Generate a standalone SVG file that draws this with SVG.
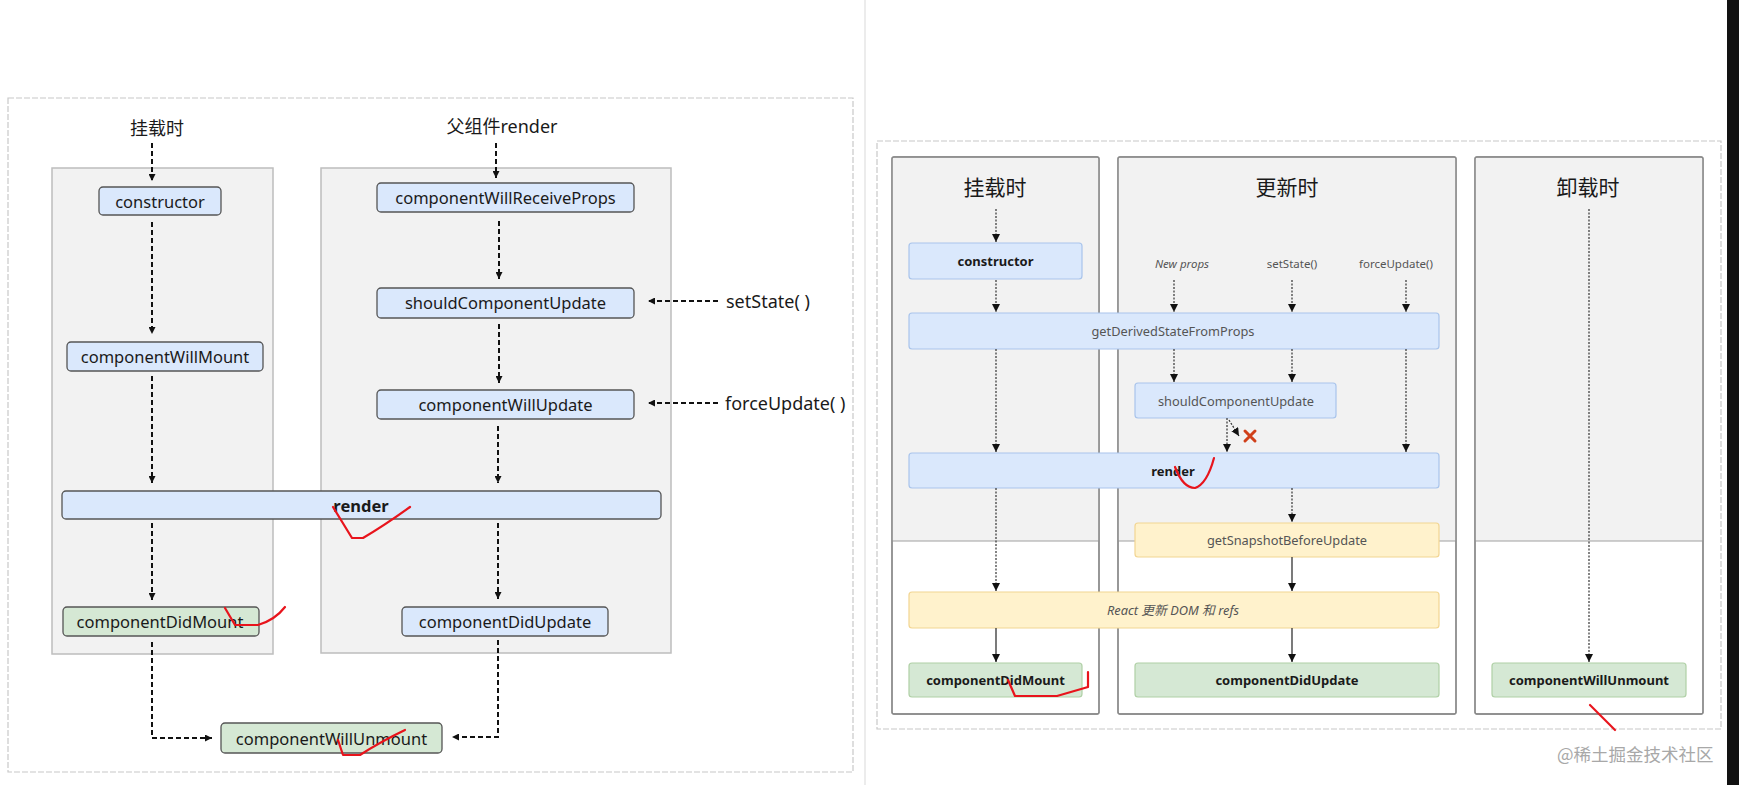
<svg xmlns="http://www.w3.org/2000/svg" width="1739" height="785" viewBox="0 0 1739 785">
<style>
text{font-family:"Noto Sans","Open Sans","Noto Sans CJK SC",sans-serif;}
.outer{fill:#fff;stroke:#c8c8c8;stroke-width:1.2;stroke-dasharray:6,2;}
.lane{fill:#f2f2f2;stroke:#bdbdbd;stroke-width:1.5;}
.lbox{fill:#dae8fc;stroke:#555;stroke-width:1.3;}
.lgreen{fill:#d5e8d4;stroke:#555;stroke-width:1.3;}
.lt{font-size:16.5px;fill:#1a1a1a;text-anchor:middle;dominant-baseline:central;}
.lh{font-size:18px;fill:#1a1a1a;text-anchor:middle;dominant-baseline:central;}
.ls{font-size:18px;fill:#1a1a1a;text-anchor:start;dominant-baseline:central;}
.ld{fill:none;stroke:#111;stroke-width:2;stroke-dasharray:5,3;marker-end:url(#ah);}
.rlane{fill:#fff;stroke:#8a8a8a;stroke-width:1.3;}
.rgray{fill:#f2f2f2;}
.rdiv{stroke:#a0a0a0;stroke-width:1;}
.rbox{fill:#dae8fc;stroke:#a9c4eb;stroke-width:1.2;}
.rylw{fill:#fff2cc;stroke:#f2d592;stroke-width:1.2;}
.rgrn{fill:#d5e8d4;stroke:#b0d0a6;stroke-width:1.2;}
.rt{font-size:12.8px;fill:#555;text-anchor:middle;dominant-baseline:central;}
.rb{font-size:13px;font-weight:bold;fill:#1a1a1a;text-anchor:middle;dominant-baseline:central;}
.rh{font-size:21px;fill:#1a1a1a;text-anchor:middle;dominant-baseline:central;}
.ri{font-size:11.5px;fill:#555;text-anchor:middle;dominant-baseline:central;}
.rd{fill:none;stroke:#333;stroke-width:1.2;stroke-dasharray:2,1.5;marker-end:url(#ah2);}
.rs{fill:none;stroke:#333;stroke-width:1.3;marker-end:url(#ah2);}
.red{fill:none;stroke:#e8141c;stroke-width:2.2;stroke-linecap:round;stroke-linejoin:round;}
</style>
<defs>
<marker id="ah" viewBox="0 0 8 8" markerWidth="7" markerHeight="7" refX="8" refY="4" orient="auto" markerUnits="userSpaceOnUse"><path d="M0,0 L8,4 L0,8 z" fill="#111"/></marker>
<marker id="ah2" viewBox="0 0 8 8" markerWidth="8" markerHeight="8" refX="8" refY="4" orient="auto" markerUnits="userSpaceOnUse"><path d="M0,0 L8,4 L0,8 z" fill="#111"/></marker>
</defs>
<rect width="1739" height="785" fill="#fff"/>
<line x1="865" y1="0" x2="865" y2="785" stroke="#e6e6e6" stroke-width="1.5"/>
<rect x="1727" y="0" width="12" height="785" fill="#111"/>

<!-- LEFT DIAGRAM -->
<g id="left-frame">
<rect class="outer" x="8" y="98" width="845" height="674"/>
<rect class="lane" x="52" y="168" width="221" height="486"/>
<rect class="lane" x="321" y="168" width="350" height="485"/>
</g>
<g id="l-mount-label"><text class="lh" x="157" y="128">挂载时</text></g>
<g id="l-parent-label"><text class="lh" x="502" y="126">父组件render</text></g>
<g id="l-constructor"><rect class="lbox" x="99" y="187" width="122" height="28" rx="4"/><text class="lt" x="160" y="201">constructor</text></g>
<g id="l-cwm"><rect class="lbox" x="67" y="342" width="196" height="29" rx="4"/><text class="lt" x="165" y="356.5">componentWillMount</text></g>
<g id="l-render"><rect class="lbox" x="62" y="491" width="599" height="28" rx="4"/><text class="lt" x="361" y="505" font-weight="bold">render</text></g>
<g id="l-cdm"><rect class="lgreen" x="63" y="607" width="196" height="29" rx="4"/><text class="lt" x="160" y="621.5">componentDidMount</text></g>
<g id="l-cwrp"><rect class="lbox" x="377" y="183" width="257" height="29" rx="4"/><text class="lt" x="505.5" y="197.5">componentWillReceiveProps</text></g>
<g id="l-scu"><rect class="lbox" x="377" y="288" width="257" height="30" rx="4"/><text class="lt" x="505.5" y="302.5">shouldComponentUpdate</text></g>
<g id="l-cwu"><rect class="lbox" x="377" y="390" width="257" height="29" rx="4"/><text class="lt" x="505.5" y="404.5">componentWillUpdate</text></g>
<g id="l-cdu"><rect class="lbox" x="402" y="607" width="206" height="29" rx="4"/><text class="lt" x="505" y="621.5">componentDidUpdate</text></g>
<g id="l-cwun"><rect class="lgreen" x="221" y="723" width="221" height="30" rx="4"/><text class="lt" x="331.5" y="738">componentWillUnmount</text></g>
<g id="l-setstate"><text class="ls" x="726" y="301">setState( )</text></g>
<g id="l-forceupdate"><text class="ls" x="725" y="403">forceUpdate( )</text></g>

<g id="l-connectors">
<line class="ld" x1="152" y1="143" x2="152" y2="181"/>
<line class="ld" x1="152" y1="222" x2="152" y2="334"/>
<line class="ld" x1="152" y1="376" x2="152" y2="483"/>
<line class="ld" x1="152" y1="523" x2="152" y2="600"/>
<path class="ld" d="M152,642 V738 H212"/>
<line class="ld" x1="496" y1="143" x2="496" y2="178"/>
<line class="ld" x1="499" y1="221" x2="499" y2="279"/>
<line class="ld" x1="499" y1="324" x2="499" y2="383"/>
<line class="ld" x1="498" y1="426" x2="498" y2="483"/>
<line class="ld" x1="498" y1="523" x2="498" y2="599"/>
<path class="ld" d="M498,640 V737 H452"/>
<line class="ld" x1="718" y1="301" x2="648" y2="301"/>
<line class="ld" x1="718" y1="403" x2="648" y2="403"/>
</g>

<!-- RIGHT DIAGRAM -->
<g id="right-frame">
<rect class="outer" x="877" y="141" width="844" height="588"/>
<rect class="rlane" x="892" y="157" width="207" height="557" rx="2"/>
<rect class="rgray" x="892.7" y="157.7" width="205.6" height="383.3"/>
<line class="rdiv" x1="892" y1="541" x2="1099" y2="541"/>
<rect class="rlane" x="1118" y="157" width="338" height="557" rx="2"/>
<rect class="rgray" x="1118.7" y="157.7" width="336.6" height="383.3"/>
<line class="rdiv" x1="1118" y1="541" x2="1456" y2="541"/>
<rect class="rlane" x="1475" y="157" width="228" height="557" rx="2"/>
<rect class="rgray" x="1475.7" y="157.7" width="226.6" height="383.3"/>
<line class="rdiv" x1="1475" y1="541" x2="1703" y2="541"/>
<rect x="892" y="157" width="207" height="557" rx="2" fill="none" stroke="#8a8a8a" stroke-width="1.3"/>
<rect x="1118" y="157" width="338" height="557" rx="2" fill="none" stroke="#8a8a8a" stroke-width="1.3"/>
<rect x="1475" y="157" width="228" height="557" rx="2" fill="none" stroke="#8a8a8a" stroke-width="1.3"/>
</g>
<g id="r-mount-label"><text class="rh" x="995" y="187">挂载时</text></g>
<g id="r-update-label"><text class="rh" x="1287" y="187">更新时</text></g>
<g id="r-unmount-label"><text class="rh" x="1588" y="187">卸载时</text></g>
<g id="r-newprops"><text class="ri" x="1182" y="263" font-style="italic">New props</text></g>
<g id="r-setstate"><text class="ri" x="1292" y="263">setState()</text></g>
<g id="r-forceupdate"><text class="ri" x="1396" y="263">forceUpdate()</text></g>
<g id="r-constructor"><rect class="rbox" x="909" y="243" width="173" height="36" rx="3"/><text class="rb" x="995.5" y="261">constructor</text></g>
<g id="r-gdsfp"><rect class="rbox" x="909" y="313" width="530" height="36" rx="3"/><text class="rt" x="1173" y="331">getDerivedStateFromProps</text></g>
<g id="r-scu"><rect class="rbox" x="1135" y="383" width="201" height="35" rx="3"/><text class="rt" x="1236" y="400.5">shouldComponentUpdate</text></g>
<g id="r-render"><rect class="rbox" x="909" y="453" width="530" height="35" rx="3"/><text class="rb" x="1173" y="471">render</text></g>
<g id="r-gsbu"><rect class="rylw" x="1135" y="523" width="304" height="34" rx="3"/><text class="rt" x="1287" y="540">getSnapshotBeforeUpdate</text></g>
<g id="r-react"><rect class="rylw" x="909" y="592" width="530" height="36" rx="3"/><text class="rt" x="1173" y="610" font-style="italic">React 更新 DOM 和 refs</text></g>
<g id="r-cdm"><rect class="rgrn" x="909" y="663" width="173" height="34" rx="3"/><text class="rb" x="995.5" y="680">componentDidMount</text></g>
<g id="r-cdu"><rect class="rgrn" x="1135" y="663" width="304" height="34" rx="3"/><text class="rb" x="1287" y="680">componentDidUpdate</text></g>
<g id="r-cwun"><rect class="rgrn" x="1492" y="663" width="194" height="34" rx="3"/><text class="rb" x="1589" y="680">componentWillUnmount</text></g>

<g id="r-connectors">
<line class="rd" x1="996" y1="209" x2="996" y2="242"/>
<line class="rd" x1="996" y1="280" x2="996" y2="312"/>
<line class="rd" x1="1174" y1="280" x2="1174" y2="312"/>
<line class="rd" x1="1292" y1="280" x2="1292" y2="312"/>
<line class="rd" x1="1406" y1="280" x2="1406" y2="312"/>
<line class="rd" x1="1174" y1="349" x2="1174" y2="382"/>
<line class="rd" x1="1292" y1="349" x2="1292" y2="382"/>
<line class="rd" x1="1406" y1="349" x2="1406" y2="452"/>
<line class="rd" x1="996" y1="349" x2="996" y2="452"/>
<line class="rd" x1="1227" y1="418" x2="1227" y2="452"/>
<line class="rd" x1="1229" y1="420" x2="1239" y2="436"/>
<line class="rd" x1="1292" y1="488" x2="1292" y2="522"/>
<line class="rd" x1="996" y1="488" x2="996" y2="591"/>
<line class="rs" x1="1292" y1="557" x2="1292" y2="591"/>
<line class="rs" x1="996" y1="628" x2="996" y2="662"/>
<line class="rs" x1="1292" y1="628" x2="1292" y2="662"/>
<line class="rd" x1="1589" y1="209" x2="1589" y2="662"/>
</g>
<g id="r-cross"><path d="M1245,431 L1255,441 M1255,431 L1245,441" stroke="#d0401a" stroke-width="3" stroke-linecap="round"/></g>

<g id="watermark"><text x="1557" y="753" font-size="17.5" fill="#a8a8a8" dominant-baseline="central" style="font-family:'Noto Sans CJK SC','Noto Sans',sans-serif">@稀土掘金技术社区</text></g>

<g id="annotations">
<path class="red" d="M333,507 L352,538 L363,538 Q385,525 410,507"/>
<path class="red" d="M225,608 L235,625 L258,625 Q275,620 285,607"/>
<path class="red" d="M338,740 L343,755 L360,755 Q380,742 405,730"/>
<path class="red" d="M1175,467 Q1183,488 1195,488 Q1207,484 1214,458"/>
<path class="red" d="M1008,680 L1015,696 L1057,696 L1088,687 L1088,672"/>
<path class="red" d="M1590,705 L1615,730"/>
</g>
</svg>
